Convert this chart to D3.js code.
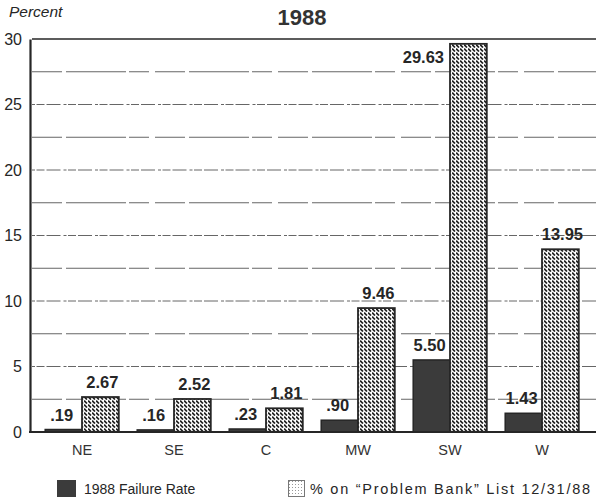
<!DOCTYPE html>
<html><head><meta charset="utf-8">
<script src="https://cdn.jsdelivr.net/npm/d3@7/dist/d3.min.js"></script>
<style>body{margin:0;background:#fff}svg{display:block;font-family:"Liberation Sans",Arial,sans-serif}</style>
</head><body><svg id="c" width="596" height="499"></svg>
<script>
const categories = ["NE","SE","C","MW","SW","W"];
const failureRate = [0.19,0.16,0.23,0.90,5.50,1.43];
const failureLabels = [".19",".16",".23",".90","5.50","1.43"];
const problemBank = [2.67,2.52,1.81,9.46,29.63,13.95];
const problemLabels = ["2.67","2.52","1.81","9.46","29.63","13.95"];
const yTicks = [0,5,10,15,20,25,30];
const gridValues = [2.5,5,7.5,10,12.5,15,17.5,20,22.5,25,27.5,30];
const seriesNames = ["1988 Failure Rate","% on \u201cProblem Bank\u201d List 12/31/88"];

const svg = d3.select("#c");
const ink = "#262626";
const defs = svg.append("defs");
const pat = defs.append("pattern").attr("id","hatch").attr("patternUnits","userSpaceOnUse")
  .attr("width",4).attr("height",4);
pat.append("rect").attr("width",4).attr("height",4).attr("fill","#fff");
pat.append("path").attr("d","M0,0.5 L3,3.5").attr("stroke","#1e1e1e").attr("stroke-width",1.7);
const pat2 = defs.append("pattern").attr("id","hatchLight").attr("patternUnits","userSpaceOnUse")
  .attr("width",3).attr("height",3);
pat2.append("rect").attr("width",3).attr("height",3).attr("fill","#fff");
pat2.append("rect").attr("x",1).attr("y",1).attr("width",1).attr("height",1).attr("fill","#999");

const x0 = 30, yTop = 39, yBot = 432, xRight = 596;
const y = d3.scaleLinear().domain([0,30]).range([yBot,yTop]);
const xb = d3.scaleBand().domain(categories).range([36,588]).paddingInner(0.2).paddingOuter(0.1);
const xs = d3.scaleBand().domain([0,1]).range([0,xb.bandwidth()]);

// grid
svg.append("g").selectAll("line").data(gridValues).join("line")
  .attr("x1",x0+2).attr("x2",xRight).attr("y1",d=>y(d)).attr("y2",d=>y(d))
  .attr("stroke",d=>d===30?ink:"#666")
  .attr("stroke-width",d=>d===30?1.6:1)
  .attr("stroke-dasharray",d=>d===30?null:(d%5===0?"3,1.5,8,2,14,3":"30,4,60,3,20,6"));

// bars
const g = svg.append("g");
categories.forEach((c,i)=>{
  const bx = xb(c);
  g.append("rect").attr("x",bx+xs(0)).attr("y",y(failureRate[i]))
    .attr("width",xs.bandwidth()).attr("height",yBot-y(failureRate[i]))
    .attr("fill","#3b3b3b").attr("stroke",ink).attr("stroke-width",1.5);
  g.append("rect").attr("x",bx+xs(1)).attr("y",y(problemBank[i]))
    .attr("width",xs.bandwidth()).attr("height",yBot-y(problemBank[i]))
    .attr("fill","url(#hatch)").attr("stroke",ink).attr("stroke-width",1.8);
  // labels
  g.append("text").attr("x",bx+xs(0)+xs.bandwidth()/2-2).attr("y",y(failureRate[i])-9)
    .attr("text-anchor","middle").attr("font-size",16.5).attr("font-weight","bold").attr("fill",ink)
    .text(failureLabels[i]);
  const big = problemBank[i] > 28;
  g.append("text")
    .attr("x", big ? bx+xs(1)-6 : bx+xs(1)+xs.bandwidth()/2+2)
    .attr("y", big ? 63 : y(problemBank[i])-9)
    .attr("text-anchor", big ? "end" : "middle")
    .attr("font-size",16.5).attr("font-weight","bold").attr("fill",ink)
    .text(problemLabels[i]);
});

// axes
const ya = svg.append("g").attr("transform",`translate(${x0},0)`)
  .call(d3.axisLeft(y).tickValues(yTicks).tickSize(0).tickPadding(8));
ya.select(".domain").attr("stroke",ink).attr("stroke-width",2.2);
ya.selectAll("text").attr("font-size",16).attr("fill",ink).attr("font-family","Liberation Sans, Arial, sans-serif");

const xa = svg.append("g").attr("transform",`translate(0,${yBot})`)
  .call(d3.axisBottom(xb).tickSize(0).tickPadding(13));
xa.select(".domain").remove();
xa.selectAll("text").attr("font-size",14.5).attr("fill","#333").attr("font-family","Liberation Sans, Arial, sans-serif");
svg.append("line").attr("x1",x0-1).attr("x2",xRight).attr("y1",yBot).attr("y2",yBot)
  .attr("stroke",ink).attr("stroke-width",2);

// title
svg.append("text").attr("x",302).attr("y",25).attr("text-anchor","middle")
  .attr("font-size",22).attr("font-weight","bold").attr("fill","#333").text("1988");
svg.append("text").attr("x",9).attr("y",17).attr("font-size",15.5).attr("font-style","italic")
  .attr("fill",ink).text("Percent");

// legend
svg.append("rect").attr("x",57).attr("y",480).attr("width",19).attr("height",17).attr("fill","#3b3b3b");
svg.append("text").attr("x",84).attr("y",494).attr("font-size",14).attr("fill",ink).text(seriesNames[0]);
svg.append("rect").attr("x",288.5).attr("y",480.5).attr("width",16).attr("height",16)
  .attr("fill","url(#hatchLight)").attr("stroke","#777").attr("stroke-width",1);
svg.append("text").attr("x",310).attr("y",494).attr("font-size",14.5).attr("fill",ink)
  .attr("textLength",280).attr("lengthAdjust","spacing").text(seriesNames[1]);
</script></body></html>
